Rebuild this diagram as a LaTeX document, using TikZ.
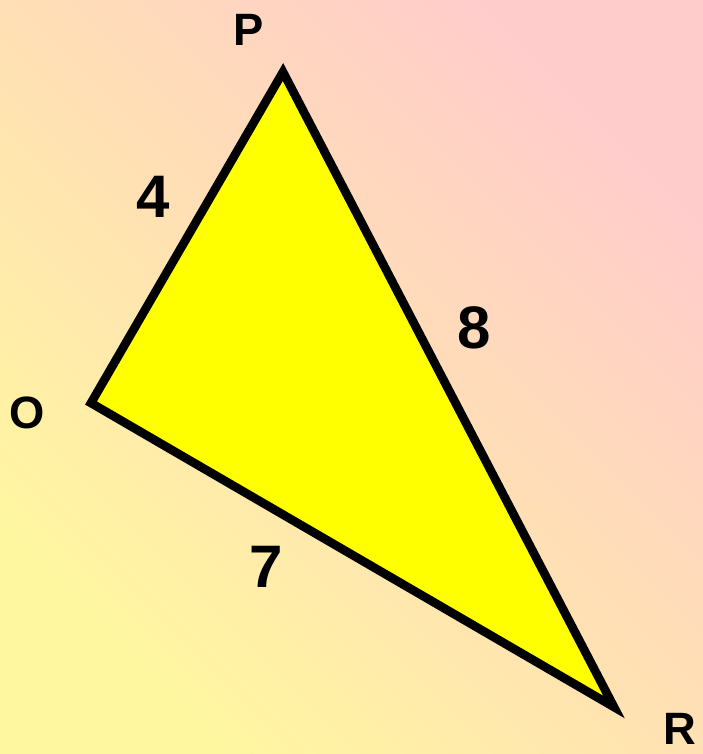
\documentclass[tikz,border=0pt]{standalone}
\usepackage{fontspec}
\setmainfont{Liberation Sans}
\definecolor{bgyellow}{RGB}{255,247,160}
\definecolor{bgpink}{RGB}{255,204,204}
\definecolor{bgmid}{RGB}{255,224,180}
\definecolor{triyellow}{RGB}{255,255,0}
\begin{document}
\begin{tikzpicture}[x=0.75pt,y=-0.75pt,
  vlabel/.style={font=\fontsize{34}{40}\selectfont\bfseries, inner sep=0pt},
  slabel/.style={font=\fontsize{45}{52}\selectfont\bfseries, inner sep=0pt},
  edge/.style={draw=black, line width=6.5pt, line join=miter, fill=triyellow}]
\useasboundingbox (0,0) rectangle (703,754);
\shade[shading=axis, bottom color=bgyellow, top color=bgpink, middle color=bgmid, shading angle=-45] (0,0) rectangle (703,754);
\coordinate (P) at (283,72);
\coordinate (O) at (91,403);
\coordinate (R) at (614,707);
\path[edge] (P) -- (O) -- (R) -- cycle;
\node[vlabel] (lp) at (249,30) {P};
\node[vlabel] (lo) at (27,413) {O};
\node[vlabel] (lr) at (680,729) {R};
\node[slabel] (l4) at (153,197) {4};
\node[slabel] (l8) at (474,328) {8};
\node[slabel] (l7) at (266,567) {7};
\end{tikzpicture}
\end{document}
